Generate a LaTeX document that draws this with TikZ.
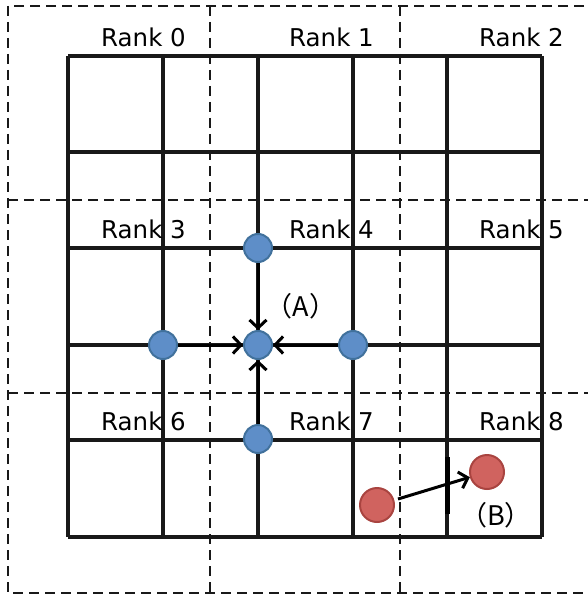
\documentclass[tikz,border=0pt]{standalone}
\usepackage{fontspec}
\setmainfont{DejaVu Sans}
\newfontfamily\cjkfont{Noto Sans CJK JP}
\usetikzlibrary{arrows.meta}
\definecolor{bluefill}{RGB}{94,142,200}
\definecolor{blueedge}{RGB}{65,113,156}
\definecolor{redfill}{RGB}{208,99,95}
\definecolor{rededge}{RGB}{169,68,64}
\tikzset{
  gridline/.style={line width=3.2pt, black!90},
  rankline/.style={line width=2.2pt, dash pattern=on 10pt off 6pt, black!90},
  ranklabel/.style={anchor=east, inner sep=0pt, font=\fontsize{24.5}{28}\selectfont},
  bluedot/.style={circle, fill=bluefill, draw=blueedge, line width=2pt, minimum size=28pt, inner sep=0pt},
  reddot/.style={circle, fill=redfill, draw=rededge, line width=2pt, minimum size=34pt, inner sep=0pt},
  flow/.style={line width=3pt, -{Straight Barb[length=8pt,width=17pt]}},
  caseLabel/.style={inner sep=0pt, font=\cjkfont\fontsize{27}{30}\selectfont}
}
\begin{document}
\begin{tikzpicture}[x=1pt,y=-1pt]
\useasboundingbox (0,0) rectangle (587,596);
% grid
\foreach \x in {68,163,258,353,447,542} \draw[gridline] (\x,56) -- (\x,537);
\foreach \y in {56,152,248,345,440,537} \draw[gridline] (68,\y) -- (542,\y);
% rank boundaries
\draw[rankline] (600,6) -- (8,6) -- (8,593) -- (600,593);
\draw[rankline] (8,200) -- (600,200);
\draw[rankline] (8,393) -- (600,393);
\draw[rankline] (210,6) -- (210,593);
\draw[rankline] (400,6) -- (400,593);
% labels
\node[ranklabel] (r0) at (186,37) {Rank 0};
\node[ranklabel] (r1) at (374,37) {Rank 1};
\node[ranklabel] (r2) at (564,37) {Rank 2};
\node[ranklabel] (r3) at (186,229) {Rank 3};
\node[ranklabel] (r4) at (374,229) {Rank 4};
\node[ranklabel] (r5) at (564,229) {Rank 5};
\node[ranklabel] (r6) at (186,421) {Rank 6};
\node[ranklabel] (r7) at (374,421) {Rank 7};
\node[ranklabel] (r8) at (564,421) {Rank 8};
% case A
\node[bluedot] (top) at (258,248) {};
\node[bluedot] (left) at (163,345) {};
\node[bluedot] (ctr) at (258,345) {};
\node[bluedot] (right) at (353,345) {};
\node[bluedot] (bot) at (258,439) {};
\draw[flow] (top) -- (ctr);
\draw[flow] (left) -- (ctr);
\draw[flow] (right) -- (ctr);
\draw[flow] (bot) -- (ctr);
\node[caseLabel] (la) at (301,306) {（A）};
% case B
\draw[line width=5pt] (447,457) -- (447,514);
\node[reddot] (p0) at (377,505) {};
\node[reddot] (p1) at (487,472) {};
\coordinate (p0s) at (398,499);
\draw[flow] (p0s) -- (p1);
\node[caseLabel] (lb) at (496,515) {（B）};
\end{tikzpicture}
\end{document}
